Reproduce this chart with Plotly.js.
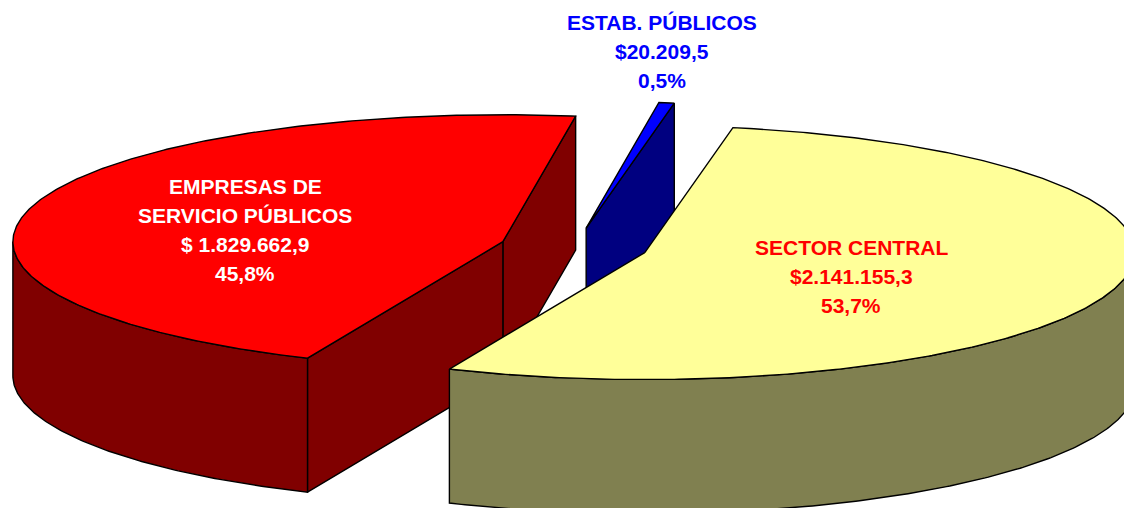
<!DOCTYPE html>
<html>
<head>
<meta charset="utf-8">
<script src="https://cdn.plot.ly/plotly-3.0.1.min.js"></script>
<style>html,body{margin:0;padding:0;background:#fff;}#chart{width:1124px;height:508px;}</style>
</head>
<body>
<div id="chart"></div>
<script>
// ---- data ----
const categories = ['SECTOR CENTRAL', 'ESTAB. PÚBLICOS', 'EMPRESAS DE SERVICIO PÚBLICOS'];
const labelLines = [['SECTOR CENTRAL'], ['ESTAB. PÚBLICOS'], ['EMPRESAS DE', 'SERVICIO PÚBLICOS']];
const values = [2141155.3, 20209.5, 1829662.9];
const percentLabels = [53.7, 0.5, 45.8];
const currencyPrefix = ['$', '$', '$ '];

// ---- style / geometry ----
const topColors = ['#FFFF99', '#0000FF', '#FF0000'];
const sideColors = ['#808050', '#000080', '#800000'];
const textColors = ['#FF0000', '#0000FF', '#FFFFFF'];
const labelPos = [[851, 247], [662, 22], [245, 186]];
const lineGap = 29;
const cx = 574, cy = 247, rx = 490, ry = 127, depth = 134, explode = 0.151, startAngle = 246.5;

function fmt(v, dec) {
  const parts = v.toFixed(dec).split('.');
  const intPart = parts[0].replace(/\B(?=(\d{3})+(?!\d))/g, '.');
  return parts.length > 1 ? intPart + ',' + parts[1] : intPart;
}

const total = values.reduce((s, v) => s + v, 0);
const rad = d => d * Math.PI / 180;
let acc = startAngle;
const slices = values.map((v, i) => {
  const span = v / total * 360;
  const a1 = acc, a2 = acc + span;
  acc = a2;
  const mid = (a1 + a2) / 2;
  return {
    i, a1, a2, mid,
    ox: cx + explode * rx * Math.cos(rad(mid)),
    oy: cy - explode * ry * Math.sin(rad(mid))
  };
});

function rimPt(s, ang, dz) {
  return [s.ox + rx * Math.cos(rad(ang)), s.oy - ry * Math.sin(rad(ang)) + dz];
}
function arc(s, b1, b2, dz) {
  const n = Math.max(2, Math.ceil(Math.abs(b2 - b1) / 0.5));
  const pts = [];
  for (let k = 0; k <= n; k++) pts.push(rimPt(s, b1 + (b2 - b1) * k / n, dz));
  return pts;
}
function poly(pts, fill) {
  const xs = pts.map(p => p[0]), ys = pts.map(p => p[1]);
  xs.push(xs[0]); ys.push(ys[0]);
  return {
    type: 'scatter', mode: 'lines', x: xs, y: ys, fill: 'toself', fillcolor: fill,
    line: {color: '#000000', width: 1.4}, hoverinfo: 'skip', showlegend: false
  };
}

const traces = [];
const order = slices.slice().sort((p, q) => Math.sin(rad(q.mid)) - Math.sin(rad(p.mid)));
order.forEach(s => {
  const side = sideColors[s.i];
  // radial faces that face the viewer
  if (Math.cos(rad(s.a1)) > 0) {
    const r0 = rimPt(s, s.a1, 0), r1 = rimPt(s, s.a1, depth);
    traces.push(poly([[s.ox, s.oy], r0, r1, [s.ox, s.oy + depth]], side));
  }
  if (Math.cos(rad(s.a2)) < 0) {
    const r0 = rimPt(s, s.a2, 0), r1 = rimPt(s, s.a2, depth);
    traces.push(poly([[s.ox, s.oy], r0, r1, [s.ox, s.oy + depth]], side));
  }
  // outer wall, front half only
  for (let k = -1; k <= 2; k++) {
    const lo = Math.max(s.a1, 180 + 360 * k), hi = Math.min(s.a2, 360 + 360 * k);
    if (hi > lo) {
      const topArc = arc(s, lo, hi, 0);
      const botArc = arc(s, lo, hi, depth).reverse();
      traces.push(poly(topArc.concat(botArc), side));
    }
  }
  // top face
  traces.push(poly([[s.ox, s.oy]].concat(arc(s, s.a1, s.a2, 0)), topColors[s.i]));
});

const annotations = [];
slices.forEach(s => {
  const i = s.i;
  const lines = labelLines[i].concat([
    currencyPrefix[i] + fmt(values[i], 1),
    fmt(percentLabels[i], 1) + '%'
  ]);
  lines.forEach((t, k) => {
    annotations.push({
      x: labelPos[i][0], y: labelPos[i][1] + k * lineGap, xref: 'x', yref: 'y',
      text: t, showarrow: false, xanchor: 'center', yanchor: 'middle',
      font: {family: 'Liberation Sans, Arial, sans-serif', size: 21, color: textColors[i], weight: 'bold'}
    });
  });
});

const layout = {
  width: 1124, height: 508,
  margin: {l: 0, r: 0, t: 0, b: 0},
  paper_bgcolor: '#ffffff', plot_bgcolor: '#ffffff',
  xaxis: {range: [0, 1124], visible: false, fixedrange: true},
  yaxis: {range: [508, 0], visible: false, fixedrange: true},
  showlegend: false,
  annotations: annotations
};
Plotly.newPlot('chart', traces, layout, {displayModeBar: false, staticPlot: true});
</script>
</body>
</html>
